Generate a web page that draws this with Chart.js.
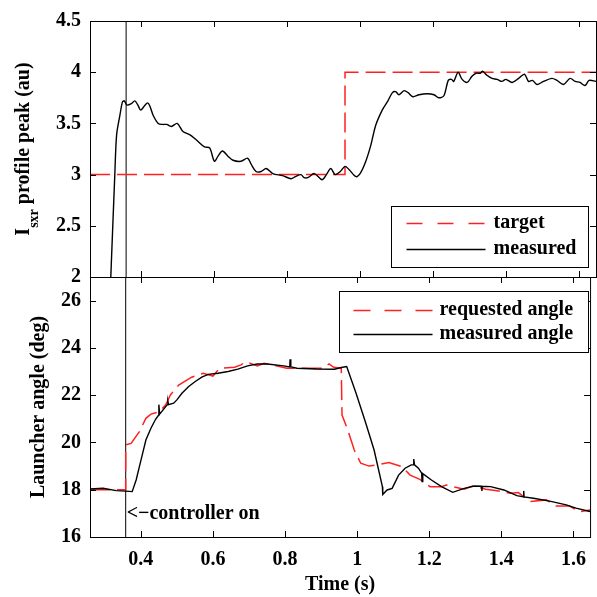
<!DOCTYPE html>
<html>
<head>
<meta charset="utf-8">
<script src="https://cdn.jsdelivr.net/npm/chart.js@4/dist/chart.umd.min.js"></script>
<style>
  body { margin: 0; background: #fff; }
  #wrap { position: relative; width: 597px; height: 597px; }
  #wrap canvas { position: absolute; left: 0; top: 0; }
</style>
</head>
<body>
<div id="wrap">
  <canvas id="topChart" width="597" height="597"></canvas>
  <canvas id="bottomChart" width="597" height="597"></canvas>
</div>
<script>
// Shared time axis
const xMin = 0.259, xMax = 1.646;
const xTicks = [0.4, 0.6, 0.8, 1, 1.2, 1.4, 1.6];
const controllerOn = 0.358;

// Top panel: Isxr profile peak
const peakTicks = [2, 2.5, 3, 3.5, 4, 4.5];
const targetTime = [0.259, 0.958, 0.958, 1.646];
const targetPeak = [3, 3, 4, 4];
const peakTime = [0.316, 0.327, 0.332, 0.341, 0.348, 0.353, 0.360, 0.371, 0.382, 0.390, 0.398, 0.408, 0.417, 0.423,
  0.432, 0.446, 0.458, 0.469, 0.482, 0.498, 0.514, 0.532, 0.550, 0.573, 0.587, 0.600, 0.610, 0.622, 0.637, 0.651,
  0.673, 0.691, 0.701, 0.714, 0.728, 0.742, 0.760, 0.787, 0.810, 0.822, 0.837, 0.846, 0.856, 0.874, 0.895, 0.907,
  0.919, 0.931, 0.945, 0.958, 0.969, 0.988, 1.001, 1.015, 1.029, 1.042, 1.060, 1.074, 1.088, 1.097, 1.106, 1.120,
  1.131, 1.144, 1.161, 1.183, 1.202, 1.215, 1.229, 1.241, 1.250, 1.256, 1.268, 1.279, 1.293, 1.306, 1.317, 1.329,
  1.335, 1.347, 1.361, 1.375, 1.388, 1.399, 1.416, 1.434, 1.450, 1.461, 1.472, 1.484, 1.502, 1.525, 1.539, 1.557,
  1.575, 1.589, 1.602, 1.616, 1.627, 1.646];
const peakValue = [2.00, 3.00, 3.39, 3.58, 3.71, 3.72, 3.68, 3.69, 3.72, 3.68, 3.63, 3.67, 3.70, 3.67,
  3.58, 3.50, 3.49, 3.49, 3.47, 3.50, 3.42, 3.39, 3.34, 3.27, 3.26, 3.13, 3.18, 3.23, 3.18, 3.14,
  3.13, 3.16, 3.10, 3.03, 3.03, 3.06, 3.01, 2.99, 2.96, 2.98, 3.00, 2.97, 2.97, 3.01, 2.95, 3.00,
  3.06, 3.00, 3.03, 3.08, 3.05, 2.98, 3.02, 3.13, 3.29, 3.48, 3.63, 3.71, 3.80, 3.81, 3.78, 3.82,
  3.80, 3.76, 3.78, 3.79, 3.78, 3.75, 3.77, 3.92, 3.93, 3.91, 4.00, 3.93, 3.90, 3.96, 3.99, 3.99,
  4.01, 3.97, 3.94, 3.93, 3.91, 3.93, 3.90, 3.94, 3.98, 3.91, 3.92, 3.88, 3.91, 3.94, 3.92, 3.88,
  3.94, 3.91, 3.90, 3.87, 3.92, 3.91];

// Bottom panel: launcher angle
const angleTicks = [16, 18, 20, 22, 24, 26];
const requestTime = [0.259, 0.358, 0.358, 0.373, 0.396, 0.414, 0.428, 0.451, 0.469, 0.482, 0.505, 0.541, 0.573,
  0.600, 0.619, 0.660, 0.678, 0.691, 0.723, 0.742, 0.805, 0.851, 0.906, 0.922, 0.935, 0.956, 0.958, 0.974, 0.992,
  1.010, 1.033, 1.056, 1.088, 1.124, 1.147, 1.174, 1.202, 1.234, 1.247, 1.297, 1.320, 1.357, 1.388, 1.425, 1.447,
  1.479, 1.525, 1.552, 1.589, 1.616, 1.646];
const requestAngle = [18.0, 18.0, 19.9, 19.96, 20.46, 21.02, 21.2, 21.3, 21.59, 22.01, 22.43, 22.76, 22.93,
  22.81, 23.14, 23.18, 23.28, 23.42, 23.24, 23.35, 23.14, 23.14, 23.14, 23.32, 23.18, 23.14, 21.16, 20.53, 19.68,
  19.12, 19.0, 19.05, 19.15, 18.98, 18.62, 18.44, 18.13, 18.13, 18.2, 18.02, 18.16, 18.02, 17.96, 17.85, 17.88,
  17.5, 17.57, 17.31, 17.31, 17.07, 17.14];
const angleTime = [0.259, 0.295, 0.332, 0.358, 0.376, 0.387, 0.396, 0.405, 0.414, 0.428, 0.441, 0.449, 0.450, 0.452,
  0.473, 0.475, 0.477, 0.491, 0.500, 0.514, 0.532, 0.550, 0.569, 0.587, 0.614, 0.642, 0.669, 0.696, 0.723, 0.751,
  0.796, 0.813, 0.814, 0.816, 0.833, 0.887, 0.937, 0.956, 0.971, 0.997, 1.024, 1.047, 1.070, 1.071, 1.083, 1.097,
  1.115, 1.133, 1.150, 1.156, 1.157, 1.159, 1.170, 1.179, 1.180, 1.182, 1.206, 1.234, 1.265, 1.297, 1.325, 1.345,
  1.346, 1.347, 1.370, 1.407, 1.443, 1.461, 1.462, 1.463, 1.489, 1.534, 1.580, 1.607, 1.646];
const angleValue = [18.03, 18.06, 17.96, 17.94, 17.92, 18.41, 18.98, 19.54, 20.10, 20.60, 20.98, 21.15, 21.6, 21.2,
  21.59, 21.75, 21.6, 21.66, 21.80, 22.08, 22.36, 22.57, 22.76, 22.88, 22.93, 23.0, 23.1, 23.24, 23.32, 23.32,
  23.24, 23.2, 23.52, 23.2, 23.14, 23.11, 23.10, 23.17, 23.21, 22.08, 20.81, 19.68, 18.13, 17.8, 17.99, 18.06,
  18.62, 18.91, 19.05, 19.05, 19.3, 19.05, 18.91, 18.70, 18.35, 18.68, 18.41, 18.13, 17.89, 18.06, 18.16, 18.15,
  17.95, 18.15, 18.13, 17.99, 17.75, 17.7, 17.95, 17.7, 17.64, 17.52, 17.36, 17.22, 17.08];

const FONT = "'Liberation Serif', 'Times New Roman', serif";

// Per-panel decoration (kept outside chart options so it isn't proxied)
const decor = {
    topChart: {
        legend: { x: 301, y: 185, w: 197, h: 61, lineX: [15, 94], textX: 102, rowY: [17, 43], items: [{ ds: 1, dash: [16, 15] }, { ds: 0, dash: [] }] },
        yTitle: { x: 29, parts: [{ text: 'I', size: 20, shift: 0 }, { text: 'sxr', size: 14, shift: 9 }, { text: ' profile peak (au)', size: 20, shift: 0 }] },
        note: null
    },
    bottomChart: {
        legend: { x: 249, y: 14, w: 249, h: 61, lineX: [14, 93], textX: 100, rowY: [19, 43], items: [{ ds: 1, dash: [17, 14] }, { ds: 0, dash: [] }] },
        yTitle: { x: 44, parts: [{ text: 'Launcher angle (deg)', size: 20, shift: 0 }] },
        note: { text: '<\u2212controller on', x: controllerOn, y: 17 }
    }
};

function pts(xs, ys) {
    return xs.map((x, i) => ({ x: x, y: ys[i] }));
}

// Frame, inward ticks, in-plot legend, y titles and note
const panelDecor = {
    id: 'panelDecor',
    afterDatasetsDraw(chart) {
        const opts = decor[chart.canvas.id];
        const ctx = chart.ctx;
        const a = chart.chartArea;
        const xs = chart.scales.x, ys = chart.scales.y;
        ctx.save();
        ctx.strokeStyle = '#000';
        ctx.lineWidth = 1;
        ctx.setLineDash([]);
        ctx.strokeRect(a.left + 0.5, a.top + 0.5, a.right - a.left, a.bottom - a.top);

        const len = 6;
        ctx.beginPath();
        xs.ticks.forEach(t => {
            const px = Math.round(xs.getPixelForValue(t.value)) + 0.5;
            ctx.moveTo(px, a.top); ctx.lineTo(px, a.top + len);
            ctx.moveTo(px, a.bottom); ctx.lineTo(px, a.bottom - len);
        });
        ys.ticks.forEach(t => {
            const py = Math.round(ys.getPixelForValue(t.value)) + 0.5;
            ctx.moveTo(a.left, py); ctx.lineTo(a.left + len, py);
            ctx.moveTo(a.right, py); ctx.lineTo(a.right - len, py);
        });
        ctx.stroke();

        // legend box
        const lg = opts.legend;
        const bx = Math.round(a.left + lg.x) + 0.5, by = Math.round(a.top + lg.y) + 0.5;
        ctx.fillStyle = '#fff';
        ctx.fillRect(bx, by, lg.w, lg.h);
        ctx.strokeRect(bx, by, lg.w, lg.h);
        ctx.font = 'bold 20px ' + FONT;
        ctx.textAlign = 'left';
        ctx.textBaseline = 'middle';
        lg.items.forEach((it, i) => {
            const ds = chart.data.datasets[it.ds];
            const ly = by + lg.rowY[i];
            ctx.strokeStyle = ds.borderColor;
            ctx.lineWidth = ds.borderWidth;
            ctx.setLineDash(it.dash);
            ctx.beginPath();
            ctx.moveTo(bx + lg.lineX[0], ly);
            ctx.lineTo(bx + lg.lineX[1], ly);
            ctx.stroke();
            ctx.fillStyle = '#000';
            ctx.fillText(ds.label, bx + lg.textX, ly - 1);
        });
        ctx.setLineDash([]);

        // rotated y title, with optional subscript part
        const yt = opts.yTitle;
        const widths = yt.parts.map(p => {
            ctx.font = 'bold ' + p.size + 'px ' + FONT;
            return ctx.measureText(p.text).width;
        });
        const total = widths.reduce((s, w) => s + w, 0);
        ctx.save();
        ctx.translate(yt.x, (a.top + a.bottom) / 2);
        ctx.rotate(-Math.PI / 2);
        ctx.textAlign = 'left';
        ctx.textBaseline = 'alphabetic';
        ctx.fillStyle = '#000';
        let cx = -total / 2;
        yt.parts.forEach((p, i) => {
            ctx.font = 'bold ' + p.size + 'px ' + FONT;
            ctx.fillText(p.text, cx, p.shift);
            cx += widths[i];
        });
        ctx.restore();

        // annotation next to the controller line
        if (opts.note) {
            ctx.font = 'bold 20px ' + FONT;
            ctx.fillStyle = '#000';
            ctx.textAlign = 'left';
            ctx.textBaseline = 'middle';
            ctx.fillText(opts.note.text, xs.getPixelForValue(opts.note.x) + 1, ys.getPixelForValue(opts.note.y));
        }
        ctx.restore();
    }
};

function makePanel(id, datasets, yMin, yMax, yTicks, padding, showX) {
    const tickFont = { family: FONT, size: 20, weight: 'bold' };
    return new Chart(document.getElementById(id), {
        type: 'line',
        data: { datasets: datasets },
        options: {
            responsive: false,
            animation: false,
            layout: { padding: padding },
            elements: { point: { radius: 0 } },
            plugins: { legend: { display: false }, tooltip: { enabled: false } },
            scales: {
                x: {
                    type: 'linear', min: xMin, max: xMax, display: showX,
                    afterBuildTicks: s => { s.ticks = xTicks.map(v => ({ value: v })); },
                    afterFit: s => { s.height = showX ? 60 : 0; },
                    grid: { display: false, drawTicks: false },
                    border: { display: false },
                    ticks: { font: tickFont, color: '#000', padding: 11, maxRotation: 0, autoSkip: false, callback: v => String(v) },
                    title: { display: showX, text: 'Time (s)', font: tickFont, color: '#000', padding: { top: 0, bottom: 0 } }
                },
                y: {
                    type: 'linear', min: yMin, max: yMax,
                    afterBuildTicks: s => { s.ticks = yTicks.map(v => ({ value: v })); },
                    afterFit: s => { s.width = 90; },
                    grid: { display: false, drawTicks: false },
                    border: { display: false },
                    ticks: { font: tickFont, color: '#000', padding: 9, autoSkip: false, callback: v => String(v) }
                }
            }
        },
        plugins: [panelDecor]
    });
}

// Top panel
makePanel('topChart', [
    { label: 'measured', data: pts(peakTime, peakValue), borderColor: '#000', borderWidth: 1.4, tension: 0.3 },
    { label: 'target', data: pts(targetTime, targetPeak), borderColor: '#ff2020', borderWidth: 1.5, borderDash: [20, 7] },
    { label: 'controller on', data: pts([controllerOn, controllerOn], [2, 4.5]), borderColor: '#000', borderWidth: 1 }
], 2, 4.5, peakTicks, { left: 0, top: 18, right: 1, bottom: 320 }, false);

// Bottom panel
makePanel('bottomChart', [
    { label: 'measured angle', data: pts(angleTime, angleValue), borderColor: '#000', borderWidth: 1.4 },
    { label: 'requested angle', data: pts(requestTime, requestAngle), borderColor: '#ff2020', borderWidth: 1.5, borderDash: [20, 7] },
    { label: 'controller on', data: pts([controllerOn, controllerOn], [16, 27]), borderColor: '#000', borderWidth: 1 }
], 16, 27, angleTicks, { left: 0, top: 277, right: 1, bottom: 0 }, true);
</script>
</body>
</html>
